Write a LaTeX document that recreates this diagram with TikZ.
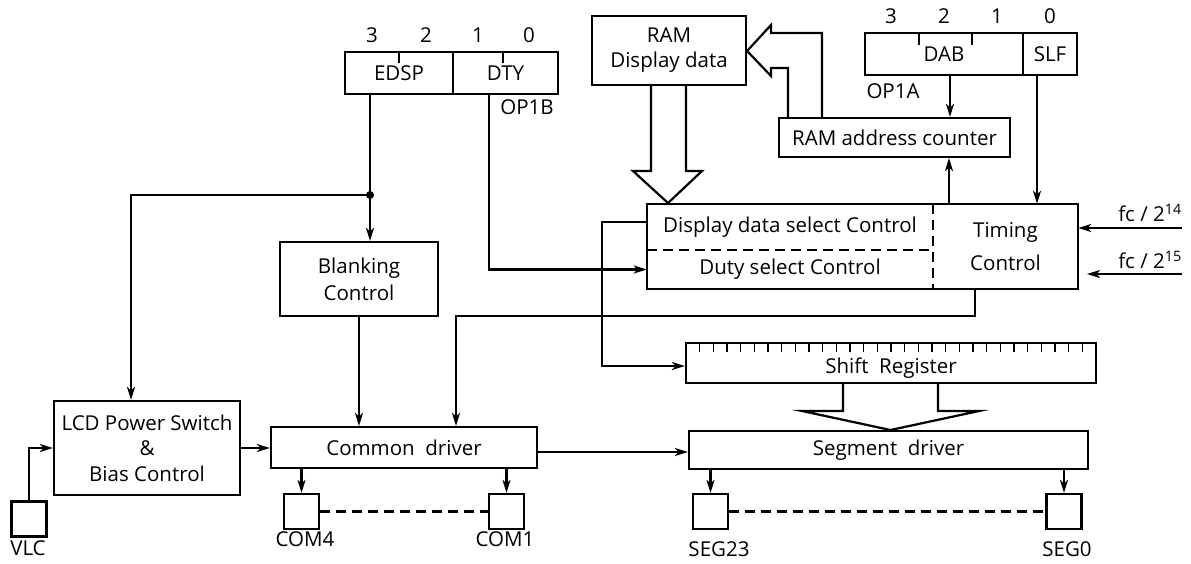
\documentclass[tikz,border=0pt]{standalone}
\usepackage{fontspec}
\setmainfont{Open Sans}
\usetikzlibrary{arrows.meta}
\begin{document}
\begin{tikzpicture}[x=1pt,y=-1pt,
  every node/.style={font=\fontsize{20.5}{25}\selectfont, inner sep=0pt},
  box/.style={draw, line width=2.2pt, align=center},
  ln/.style={line width=2.2pt},
  arr/.style={ln, -{Stealth[length=13pt,width=8pt,inset=3.5pt]}},
  pin/.style={draw, line width=2.2pt, minimum width=35pt, minimum height=35pt},
  dsh/.style={ln, dash pattern=on 10pt off 6pt},
]
\useasboundingbox (0,0) rectangle (1191,563);

% OP1B register
\node[box, minimum width=108pt, minimum height=42pt] (edsp) at (399,73) {EDSP};
\node[box, minimum width=105pt, minimum height=42pt] (dty) at (505.5,73) {DTY};
\draw[ln] (399,52) -- (399,63);
\draw[ln] (503,52) -- (503,63);
\node (b1b3) at (372,35) {3};
\node (b1b2) at (426,35) {2};
\node (b1b1) at (478,35) {1};
\node (b1b0) at (529,35) {0};
\node (op1b) at (527,107) {OP1B};

% OP1A register
\node[box, minimum width=158pt, minimum height=42pt] (dab) at (944,54) {DAB};
\node[box, minimum width=54pt, minimum height=42pt] (slf) at (1050,54) {SLF};
\draw[ln] (919,33) -- (919,45);
\draw[ln] (972,33) -- (972,45);
\node (b1a3) at (891,16) {3};
\node (b1a2) at (944,16) {2};
\node (b1a1) at (997,16) {1};
\node (b1a0) at (1050,16) {0};
\node (op1a) at (893,91) {OP1A};

% RAM and address counter
\node[box, minimum width=154pt, minimum height=69pt] (ram) at (669,50.5) {RAM\\Display data};
\node[box, minimum width=231pt, minimum height=39pt] (rac) at (894.5,137.5) {RAM address counter};

% control block
\node[minimum width=286pt, minimum height=46pt] (dsel) at (790,227) {Display data select Control};
\node[minimum width=286pt, minimum height=39pt] (duty) at (790,269.5) {Duty select Control};
\node[minimum width=145pt, minimum height=85pt, align=center, font=\fontsize{20.5}{33}\selectfont] (timing) at (1005.5,246.5) {Timing\\Control};
\draw[ln] (dsel.north west) rectangle (timing.south east);
\draw[dsh] (dsel.south west) -- (dsel.south east);
\draw[dsh] (timing.north west) -- (timing.south west);

% other blocks
\node[box, minimum width=158pt, minimum height=74pt, font=\fontsize{20.5}{27}\selectfont] (blank) at (359,279) {Blanking\\Control};
\node[box, minimum width=186pt, minimum height=94pt, font=\fontsize{20.5}{25.5}\selectfont] (lcd) at (147,448) {LCD Power Switch\\\&\\Bias Control};
\node[box, minimum width=266pt, minimum height=41pt] (com) at (404,447.5) {Common\ \ driver};
\node[box, minimum width=410pt, minimum height=40pt] (shreg) at (891,363) {};
\node (shregt) at (891,368) {Shift\ \ Register};
\foreach \k in {1,...,29} \draw[ln, line width=1.4pt] ({686+\k*410/30},343) -- ++(0,9);
\node[box, minimum width=399pt, minimum height=38pt] (seg) at (888.5,450) {Segment\ \ driver};

% pins
\node[pin] (vlc) at (29,519) {};
\node[anchor=base] (vlcl) at (28,555) {VLC};
\node[pin] (com4) at (301.5,511.5) {};
\node[pin] (com1) at (506.5,511.5) {};
\node (com4l) at (305,539) {COM4};
\node (com1l) at (505,539) {COM1};
\node[pin] (seg23) at (710.5,511.5) {};
\node[pin] (seg0) at (1064,511.5) {};
\node (seg23l) at (719,549) {SEG23};
\node (seg0l) at (1067,549) {SEG0};
\draw[dsh] (com4.east) -- (com1.west);
\draw[dsh] (seg23.east) -- (seg0.west);

% clock inputs
\node (fc14) at (1150,213) {fc / 2\textsuperscript{14}};
\node (fc15) at (1150,260) {fc / 2\textsuperscript{15}};
\coordinate (in14) at (1182,228);
\coordinate (in15) at (1182,274);

% connectors
\coordinate (j1) at (370,195);
\draw[ln] (edsp.south -| j1) -- (j1);
\draw[arr] (j1) -- (j1 |- blank.north);
\draw[arr] (j1) -| (lcd.north -| 131,0);
\fill (j1) circle (4pt);
\draw[arr] (dty.south -| 489,0) |- (duty.west);
\draw[arr] (blank.south) -- (blank.south |- com.north);
\draw[arr] (timing.south -| 975,0) |- (456,316) -- (456,0 |- com.north);
\draw[arr] (dsel.west |- 0,222) -| (602,366) -- (shreg.west |- 0,366);
\draw[arr] (dab.south -| 950,0) -- (rac.north -| 950,0);
\draw[arr] (slf.south -| 1037,0) -- (timing.north -| 1037,0);
\draw[arr] (timing.north -| 949,0) -- (rac.south -| 949,0);
\draw[arr] (in14) -- (timing.east |- in14);
\draw[arr] (in15) -- (1087,274);
\draw[arr] (lcd.east) -- (lcd.east -| com.west);
\draw[arr] (vlc.north) |- (lcd.west);
\draw[arr] (com.east |- 0,452) -- (seg.west |- 0,452);
\draw[arr] (com.south -| com4.north) -- (com4.north);
\draw[arr] (com.south -| com1.north) -- (com1.north);
\draw[arr] (seg.south -| seg23.north) -- (seg23.north);
\draw[arr] (seg.south -| seg0.north) -- (seg0.north);

% wide arrows
\draw[ln, line join=miter] (ram.south -| 651,0) -- (651,171) -- (633,171) -- (668,203) -- (702,171) -- (686,171) -- (ram.south -| 686,0);
\draw[ln, line join=miter] (rac.north -| 822,0) -- (822,33) -- (771,33) -- (771,25) -- (ram.east |- 0,51) -- (771,76) -- (771,68) -- (788,68) -- (rac.north -| 788,0);
\draw[ln, line join=miter] (shreg.south -| 843,0) -- (843,411) -- (802,411) -- (890.5,430) -- (979,411) -- (938,411) -- (shreg.south -| 938,0);
\end{tikzpicture}
\end{document}
